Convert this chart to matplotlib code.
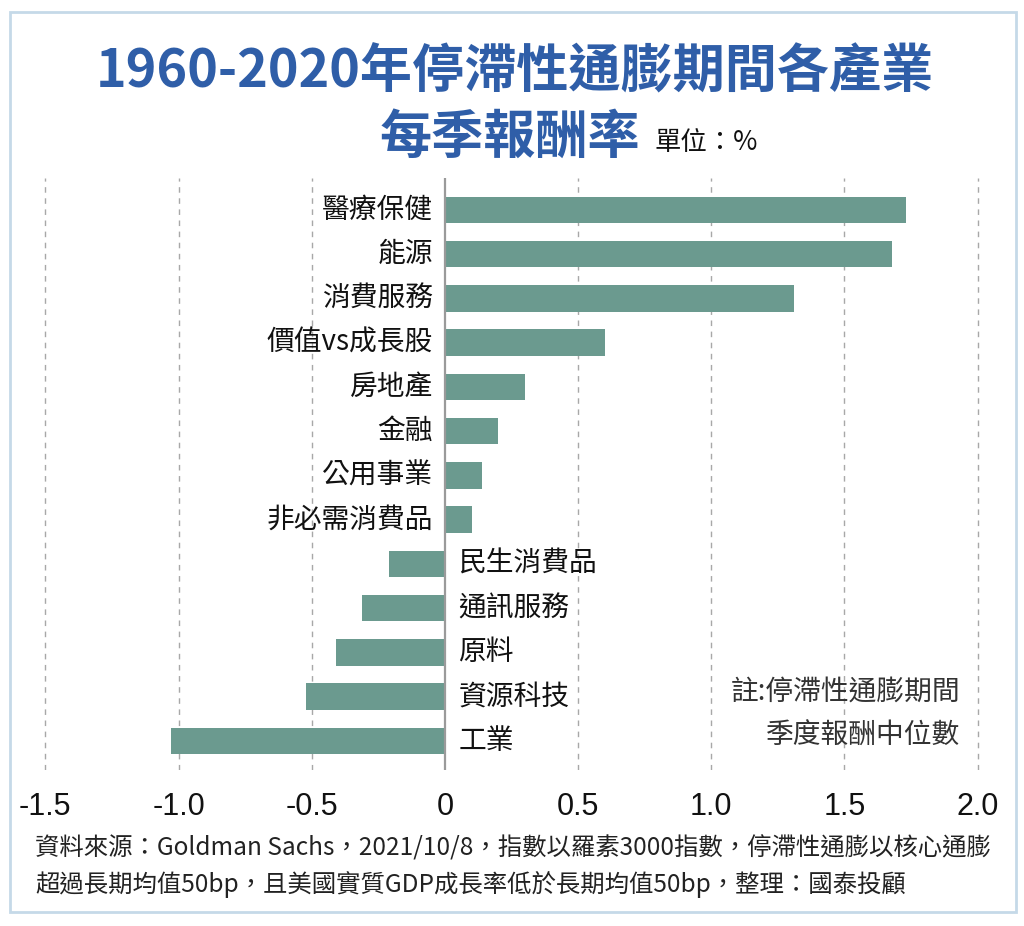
import matplotlib
matplotlib.use("Agg")
import matplotlib.pyplot as plt
from matplotlib.patches import Rectangle

categories = ["醫療保健", "能源", "消費服務", "價值vs成長股", "房地產", "金融", "公用事業",
              "非必需消費品", "民生消費品", "通訊服務", "原料", "資源科技", "工業"]
values = [1.73, 1.68, 1.31, 0.60, 0.30, 0.20, 0.14, 0.10, -0.21, -0.31, -0.41, -0.52, -1.03]
xticks = [-1.5, -1.0, -0.5, 0, 0.5, 1.0, 1.5, 2.0]
xticklabels = ["-1.5", "-1.0", "-0.5", "0", "0.5", "1.0", "1.5", "2.0"]

title1 = "1960-2020年停滯性通膨期間各產業"
title2 = "每季報酬率"
unit = "單位：%"
note1 = "註:停滯性通膨期間"
note2 = "季度報酬中位數"
source1 = "資料來源：Goldman Sachs，2021/10/8，指數以羅素3000指數，停滯性通膨以核心通膨"
source2 = "超過長期均值50bp，且美國實質GDP成長率低於長期均值50bp，整理：國泰投顧"

CJK = ["Noto Sans CJK TC", "DejaVu Sans"]
LAT = ["Liberation Sans", "Noto Sans CJK TC", "DejaVu Sans"]
plt.rcParams['font.family'] = CJK

W, H = 1024, 926
fig = plt.figure(figsize=(W / 100, H / 100), dpi=100)
fig.patch.set_facecolor("white")

fig.patches.append(Rectangle((10 / W, 1 - 912 / H), 1006 / W, 900 / H, transform=fig.transFigure,
                             fill=False, edgecolor="#c5d9e8", linewidth=2))

ax = fig.add_axes([40 / W, 1 - 770 / H, (983 - 40) / W, (770 - 178) / H])
ypos = list(range(len(categories)))
ax.barh(ypos, values, height=0.6, color="#6b9a8f", zorder=3)
ax.set_xlim(-1.52, 2.02)
ax.set_ylim(12.66, -0.72)

for t in xticks:
    if t != 0:
        ax.axvline(t, color="#a8a8a8", linestyle=(0, (4, 4)), linewidth=1, zorder=1)
ax.axvline(0, color="#9a9a9a", linewidth=1.6, zorder=4)

for y, (c, v) in enumerate(zip(categories, values)):
    if v >= 0:
        ax.text(-0.045, y, c, ha="right", va="center", fontsize=20, color="#111111")
    else:
        ax.text(0.05, y, c, ha="left", va="center", fontsize=20, color="#111111")

ax.set_xticks(xticks)
ax.set_xticklabels(xticklabels, family=LAT, fontsize=22, color="#111111")
ax.tick_params(axis="x", length=0, pad=16)
ax.set_yticks([])
for s in ax.spines.values():
    s.set_visible(False)

fig.text(960 / W, 1 - 692 / H, note1, ha="right", va="center", fontsize=20, color="#333333")
fig.text(960 / W, 1 - 735 / H, note2, ha="right", va="center", fontsize=20, color="#333333")

blue = "#2f5ea8"
fig.text(515 / W, 1 - 72 / H, title1, ha="center", va="center", fontsize=37.5, fontweight="bold", color=blue)
fig.text(640 / W, 1 - 137 / H, title2, ha="right", va="center", fontsize=37.5, fontweight="bold", color=blue)
fig.text(655 / W, 1 - 143 / H, unit, ha="left", va="center", fontsize=19, color="#111111")

fig.text(35 / W, 1 - 848 / H, source1, ha="left", va="center", fontsize=17.6, color="#222222", family=CJK)
fig.text(35 / W, 1 - 885 / H, source2, ha="left", va="center", fontsize=17.6, color="#222222", family=CJK)

fig.savefig("out.png", dpi=100)
